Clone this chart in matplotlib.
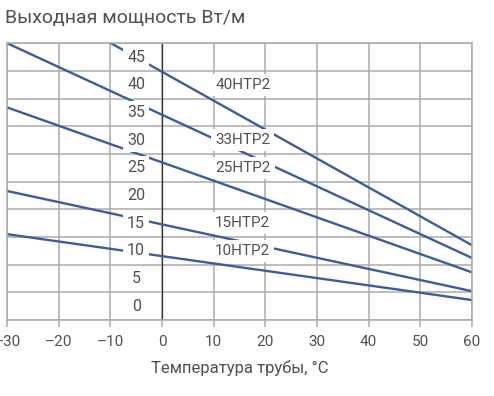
import matplotlib
matplotlib.use("Agg")
import matplotlib.pyplot as plt

plt.rcParams['font.family'] = ['Roboto', 'DejaVu Sans']

# данные
temp = [-30, 60]
p40 = [58.0, 11.0]
p33 = [47.5, 8.7]
p25 = [35.9, 6.1]
p15 = [20.8, 2.7]
p10 = [13.0, 1.1]

series = [p40, p33, p25, p15, p10]
names = ["40HTP2", "33HTP2", "25HTP2", "15HTP2", "10HTP2"]
label_y = [40, 30, 25, 15, 10]
label_x = 10.3

y_ticks = list(range(0, 50, 5))
x_ticks = list(range(-30, 61, 10))
y_label_x = -5

line_col = '#3d5c9e'
grid_col = '#ababab'
text_col = '#505050'

fig = plt.figure(figsize=(4.94, 3.96), dpi=100)
ax = fig.add_axes([0.0142, 0.192, 0.9413, 0.699])

ax.set_xlim(-30, 60)
ax.set_ylim(-2.5, 47.5)

# сетка
for gy in [v - 2.5 for v in y_ticks] + [47.5]:
    ax.axhline(gy, color=grid_col, lw=1.1, zorder=1)
ax.set_xticks(x_ticks)
ax.grid(axis='x', color=grid_col, lw=1.1, zorder=1)
ax.set_axisbelow(True)
ax.axvline(0, color='#333333', lw=0.9, zorder=1.5)

for s in ax.spines.values():
    s.set_color(grid_col)
    s.set_linewidth(1.1)

ax.set_yticks([])
ax.tick_params(axis='x', direction='out', length=5, width=1.1, color=grid_col,
               labelsize=11, labelcolor=text_col, pad=6)
ax.set_xticklabels([str(v).replace('-', '–') for v in x_ticks])
ax.get_xticklines()[2 * x_ticks.index(0)].set_color('#333333')

for ys in series:
    ax.plot(temp, ys, color=line_col, lw=1.7, zorder=2, solid_capstyle='butt')

box = dict(boxstyle='square,pad=0.25', fc='white', ec='none')
for v in y_ticks:
    ax.text(y_label_x, v, str(v), ha='center', va='center', fontsize=11.5,
            color=text_col, bbox=box, zorder=3)

for name, ly in zip(names, label_y):
    ax.text(label_x, ly, name, ha='left', va='center', fontsize=11,
            color=text_col, bbox=box, zorder=3)

ax.set_xlabel("Температура трубы, °C", fontsize=12, color=text_col, labelpad=8)
fig.text(0.01, 0.955, "Выходная мощность Вт/м", fontsize=14, color=text_col,
         ha='left', va='center')

fig.savefig("out.png", dpi=100)
